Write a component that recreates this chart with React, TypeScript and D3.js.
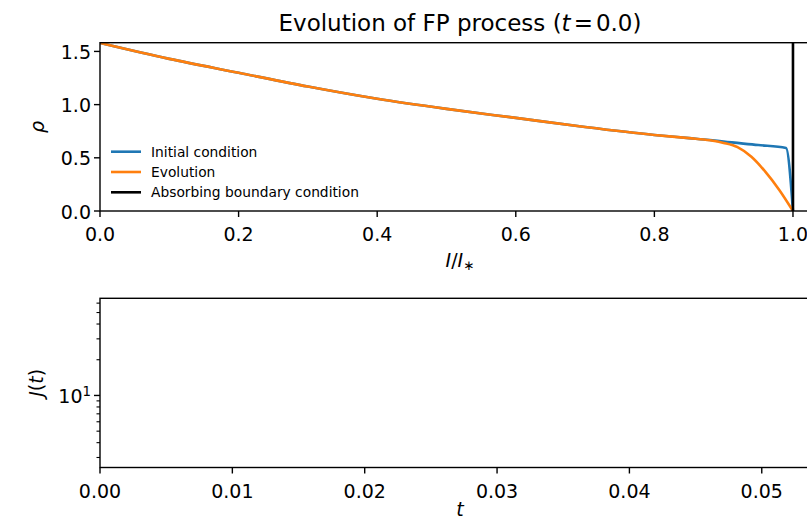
import React from "react";
import * as d3 from "d3";

// ---------- data ----------
const initialX = [0, 0.1, 0.2, 0.3, 0.4, 0.5, 0.6, 0.7, 0.8, 0.85, 0.88, 0.9, 0.95, 0.99, 1.0];
const initialRho = [1.58, 1.43, 1.3, 1.17, 1.055, 0.96, 0.875, 0.79, 0.715, 0.685, 0.667, 0.652, 0.62, 0.592, 0];
const evolutionX = [0, 0.1, 0.2, 0.3, 0.4, 0.5, 0.6, 0.7, 0.8, 0.85, 0.88, 0.9, 0.92, 0.94, 0.96, 0.98, 1.0];
const evolutionRho = [1.58, 1.43, 1.3, 1.17, 1.055, 0.96, 0.875, 0.79, 0.715, 0.685, 0.665, 0.64, 0.6, 0.51, 0.37, 0.2, 0];
const boundaryX = 1.0;
const rhoTicks = [0, 0.5, 1.0, 1.5];
const xTicksTop = [0, 0.2, 0.4, 0.6, 0.8, 1.0];
const tTicks = [0, 0.01, 0.02, 0.03, 0.04, 0.05];
const jMajorTicks = [10];
const jMinorTicks = [3, 4, 5, 6, 7, 8, 9, 20, 30, 40, 50, 60];
const legendItems = [
  { label: "Initial condition", color: "#1f77b4" },
  { label: "Evolution", color: "#ff7f0e" },
  { label: "Absorbing boundary condition", color: "#000000" },
];

const FONT = "DejaVu Sans, sans-serif";
const TICK_FS = 19;
const LABEL_FS = 19;
const LW = 2.6;
const SPINE = 1.4;

export default function App() {
  const left = 100;
  const right = 820;
  // top axes
  const tTop = 42.7;
  const tBot = 211;
  const x1 = d3.scaleLinear().domain([0, 1.039]).range([left, right]);
  const y1 = d3.scaleLinear().domain([0, 1.582]).range([tBot, tTop]);
  // bottom axes
  const bTop = 298.3;
  const bBot = 467.5;
  const x2 = d3.scaleLinear().domain([0, 0.0544]).range([left, right]);
  const y2 = d3.scaleLog().domain([2.47, 65.9]).range([bBot, bTop]);

  const line = d3
    .line<[number, number]>()
    .x((d) => x1(d[0]))
    .y((d) => y1(d[1]))
    .curve(d3.curveMonotoneX);
  const initPts = initialX.map((x, i) => [x, initialRho[i]] as [number, number]);
  const evoPts = evolutionX.map((x, i) => [x, evolutionRho[i]] as [number, number]);

  return (
    <svg
      width={807}
      height={522}
      style={{ position: "absolute", left: 0, top: 0, background: "#fff" }}
      fontFamily={FONT}
    >
      <defs>
        <clipPath id="clipTop">
          <rect x={left} y={tTop} width={right - left} height={tBot - tTop} />
        </clipPath>
      </defs>
      <rect width={807} height={522} fill="#fff" />

      {/* title */}
      <text x={(left + right) / 2} y={31} textAnchor="middle" fontSize={23} fill="#000">
        Evolution of FP process (<tspan fontStyle="italic">t</tspan>
        <tspan dx={3}>=</tspan>
        <tspan dx={3}>0.0)</tspan>
      </text>

      {/* top plot lines */}
      <g clipPath="url(#clipTop)">
        <path d={line(initPts) || ""} fill="none" stroke="#1f77b4" strokeWidth={LW} strokeLinejoin="round" />
        <path d={line(evoPts) || ""} fill="none" stroke="#ff7f0e" strokeWidth={LW} strokeLinejoin="round" />
        <line x1={x1(boundaryX)} x2={x1(boundaryX)} y1={tTop} y2={tBot} stroke="#000" strokeWidth={LW} />
      </g>

      {/* top spines */}
      <rect x={left} y={tTop} width={right - left} height={tBot - tTop} fill="none" stroke="#000" strokeWidth={SPINE} />

      {/* top x ticks */}
      {xTicksTop.map((t) => (
        <g key={"xt" + t}>
          <line x1={x1(t)} x2={x1(t)} y1={tBot} y2={tBot + 6} stroke="#000" strokeWidth={SPINE} />
          <text x={x1(t)} y={240.5} textAnchor="middle" fontSize={TICK_FS} fill="#000">
            {t.toFixed(1)}
          </text>
        </g>
      ))}
      {/* top y ticks */}
      {rhoTicks.map((t) => (
        <g key={"yt" + t}>
          <line x1={left - 6} x2={left} y1={y1(t)} y2={y1(t)} stroke="#000" strokeWidth={SPINE} />
          <text x={91} y={y1(t) + 7.5} textAnchor="end" fontSize={TICK_FS} fill="#000">
            {t.toFixed(1)}
          </text>
        </g>
      ))}
      {/* axis labels top */}
      <text x={(left + right) / 2} y={267} textAnchor="middle" fontSize={LABEL_FS} fill="#000">
        <tspan fontStyle="italic">I</tspan>
        <tspan>/</tspan>
        <tspan fontStyle="italic">I</tspan>
        <tspan fontSize={13.5} dy={3}>∗</tspan>
      </text>
      <text
        transform={`translate(44,${(tTop + tBot) / 2}) rotate(-90)`}
        textAnchor="middle"
        fontSize={LABEL_FS}
        fontStyle="italic"
        fill="#000"
      >
        ρ
      </text>

      {/* legend */}
      {legendItems.map((it, i) => {
        const cy = 151.7 + i * 20.3;
        return (
          <g key={it.label}>
            <line x1={111} x2={141} y1={cy} y2={cy} stroke={it.color} strokeWidth={LW} />
            <text x={151} y={cy} dy="0.35em" fontSize={13.8} fill="#000">
              {it.label}
            </text>
          </g>
        );
      })}

      {/* bottom spines */}
      <rect x={left} y={bTop} width={right - left} height={bBot - bTop} fill="none" stroke="#000" strokeWidth={SPINE} />
      {tTicks.map((t) => (
        <g key={"tt" + t}>
          <line x1={x2(t)} x2={x2(t)} y1={bBot} y2={bBot + 6} stroke="#000" strokeWidth={SPINE} />
          <text x={x2(t)} y={497.5} textAnchor="middle" fontSize={TICK_FS} fill="#000">
            {t.toFixed(2)}
          </text>
        </g>
      ))}
      {jMajorTicks.map((t) => (
        <g key={"jm" + t}>
          <line x1={left - 6} x2={left} y1={y2(t)} y2={y2(t)} stroke="#000" strokeWidth={SPINE} />
          <text x={91} y={y2(t) + 8} textAnchor="end" fontSize={TICK_FS} fill="#000">
            10
            <tspan fontSize={13.3} dy={-7.5}>
              {Math.round(Math.log10(t))}
            </tspan>
          </text>
        </g>
      ))}
      {jMinorTicks.map((t) => (
        <line key={"jn" + t} x1={left - 3.5} x2={left} y1={y2(t)} y2={y2(t)} stroke="#000" strokeWidth={1.1} />
      ))}
      <text x={(left + right) / 2} y={516} textAnchor="middle" fontSize={LABEL_FS} fontStyle="italic" fill="#000">
        t
      </text>
      <text
        transform={`translate(43,${(bTop + bBot) / 2}) rotate(-90)`}
        textAnchor="middle"
        fontSize={LABEL_FS}
        fill="#000"
      >
        <tspan fontStyle="italic">J</tspan>(<tspan fontStyle="italic">t</tspan>)
      </text>
    </svg>
  );
}
